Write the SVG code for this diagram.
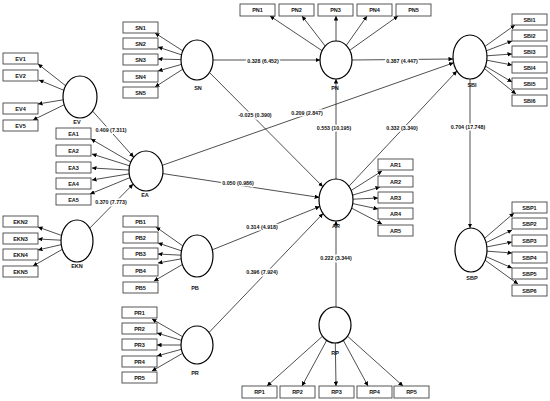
<svg xmlns="http://www.w3.org/2000/svg" width="550" height="401" viewBox="0 0 550 401">
<style>
.bx{fill:#fff;stroke:#444;stroke-width:0.9}
.ci{fill:#fff;stroke:#000;stroke-width:1.2}
.t{font-family:"Liberation Sans",Arial,sans-serif;font-weight:bold;font-size:5.5px;fill:#111;text-anchor:middle;dominant-baseline:central}
.pl{font-family:"Liberation Sans",Arial,sans-serif;font-weight:bold;font-size:5.3px;fill:#111;text-anchor:middle;dominant-baseline:central;stroke:#fff;stroke-width:3;paint-order:stroke;stroke-linejoin:round}
.ln{stroke:#222;stroke-width:0.8;fill:none;marker-end:url(#ah)}
</style>
<defs>
<marker id="ah" viewBox="0 0 6 6" refX="6" refY="3" markerWidth="4.5" markerHeight="4.5" orient="auto" markerUnits="userSpaceOnUse"><path d="M0,0 L6,3 L0,6 z" fill="#000"/></marker>
</defs>
<rect width="550" height="401" fill="#fff"/>
<g id="connectors">
<!-- outer model -->
<line class="ln" x1="80" y1="97" x2="38" y2="64"/>
<line class="ln" x1="80" y1="97" x2="39" y2="80"/>
<line class="ln" x1="80" y1="97" x2="38" y2="104"/>
<line class="ln" x1="80" y1="97" x2="33" y2="120"/>
<line class="ln" x1="146" y1="171" x2="91" y2="139"/>
<line class="ln" x1="146" y1="171" x2="92" y2="154"/>
<line class="ln" x1="146" y1="171" x2="92" y2="168"/>
<line class="ln" x1="146" y1="171" x2="92" y2="180"/>
<line class="ln" x1="146" y1="171" x2="90" y2="194"/>
<line class="ln" x1="77" y1="241" x2="38" y2="227"/>
<line class="ln" x1="77" y1="241" x2="38" y2="239"/>
<line class="ln" x1="77" y1="241" x2="38" y2="250"/>
<line class="ln" x1="77" y1="241" x2="33" y2="266"/>
<line class="ln" x1="197" y1="60" x2="155" y2="33"/>
<line class="ln" x1="197" y1="60" x2="158" y2="47"/>
<line class="ln" x1="197" y1="60" x2="158" y2="59"/>
<line class="ln" x1="197" y1="60" x2="158" y2="71"/>
<line class="ln" x1="197" y1="60" x2="155" y2="87"/>
<line class="ln" x1="336" y1="60" x2="270" y2="16"/>
<line class="ln" x1="336" y1="60" x2="302" y2="16"/>
<line class="ln" x1="336" y1="60" x2="336" y2="16"/>
<line class="ln" x1="336" y1="60" x2="367" y2="16"/>
<line class="ln" x1="336" y1="60" x2="398" y2="16"/>
<line class="ln" x1="470" y1="57" x2="515" y2="25"/>
<line class="ln" x1="470" y1="57" x2="512" y2="41"/>
<line class="ln" x1="470" y1="57" x2="512" y2="54"/>
<line class="ln" x1="470" y1="57" x2="512" y2="65"/>
<line class="ln" x1="470" y1="57" x2="512" y2="82"/>
<line class="ln" x1="470" y1="57" x2="516" y2="94"/>
<line class="ln" x1="471" y1="250" x2="514" y2="213"/>
<line class="ln" x1="471" y1="250" x2="512" y2="230"/>
<line class="ln" x1="471" y1="250" x2="512" y2="242"/>
<line class="ln" x1="471" y1="250" x2="512" y2="253"/>
<line class="ln" x1="471" y1="250" x2="512" y2="268"/>
<line class="ln" x1="471" y1="250" x2="518" y2="284"/>
<line class="ln" x1="336" y1="200" x2="382" y2="171"/>
<line class="ln" x1="336" y1="200" x2="380" y2="187"/>
<line class="ln" x1="336" y1="200" x2="378" y2="198"/>
<line class="ln" x1="336" y1="200" x2="378" y2="209"/>
<line class="ln" x1="336" y1="200" x2="382" y2="224"/>
<line class="ln" x1="197" y1="256" x2="156" y2="227"/>
<line class="ln" x1="197" y1="256" x2="158" y2="243"/>
<line class="ln" x1="197" y1="256" x2="158" y2="254"/>
<line class="ln" x1="197" y1="256" x2="158" y2="263"/>
<line class="ln" x1="197" y1="256" x2="154" y2="281"/>
<line class="ln" x1="197" y1="345" x2="152" y2="319"/>
<line class="ln" x1="197" y1="345" x2="157" y2="333"/>
<line class="ln" x1="197" y1="345" x2="157" y2="345"/>
<line class="ln" x1="197" y1="345" x2="157" y2="356"/>
<line class="ln" x1="197" y1="345" x2="152" y2="371"/>
<line class="ln" x1="335" y1="325" x2="267" y2="386"/>
<line class="ln" x1="335" y1="325" x2="302" y2="386"/>
<line class="ln" x1="335" y1="325" x2="336" y2="386"/>
<line class="ln" x1="335" y1="325" x2="368" y2="386"/>
<line class="ln" x1="335" y1="325" x2="403" y2="386"/>
<!-- inner model -->
<line class="ln" x1="92.6" y1="111.1" x2="133.7" y2="157.2"/>
<line class="ln" x1="89.7" y1="228.2" x2="133.1" y2="184.1"/>
<line class="ln" x1="213" y1="60" x2="320" y2="60"/>
<line class="ln" x1="352" y1="60" x2="453" y2="59"/>
<line class="ln" x1="209.5" y1="72.5" x2="322.8" y2="186.7"/>
<line class="ln" x1="162.3" y1="165.3" x2="453.6" y2="62.8"/>
<line class="ln" x1="336" y1="179" x2="336" y2="79"/>
<line class="ln" x1="348.9" y1="186.3" x2="456.9" y2="71"/>
<line class="ln" x1="162.9" y1="173.6" x2="319.1" y2="197.4"/>
<line class="ln" x1="212.3" y1="249.8" x2="319.8" y2="206.5"/>
<line class="ln" x1="209" y1="332.5" x2="323" y2="213.5"/>
<line class="ln" x1="336" y1="307" x2="336" y2="221"/>
<line class="ln" x1="470" y1="79" x2="470" y2="228"/>
<text class="pl" x="111" y="130">0.409 (7.311)</text>
<text class="pl" x="111" y="202">0.370 (7.773)</text>
<text class="pl" x="263" y="61">0.328 (6.452)</text>
<text class="pl" x="402" y="61">0.387 (4.447)</text>
<text class="pl" x="255" y="115">-0.025 (0.390)</text>
<text class="pl" x="307" y="113">0.209 (2.847)</text>
<text class="pl" x="334" y="128">0.553 (10.195)</text>
<text class="pl" x="402" y="128">0.332 (3.340)</text>
<text class="pl" x="238" y="183">0.050 (0.986)</text>
<text class="pl" x="262" y="227">0.314 (4.918)</text>
<text class="pl" x="262" y="272">0.396 (7.924)</text>
<text class="pl" x="336" y="258">0.222 (3.344)</text>
<text class="pl" x="468" y="127">0.704 (17.748)</text>
</g>
<g id="EV"><ellipse class="ci" cx="80" cy="97" rx="17" ry="21"/><text class="t" x="77" y="122">EV</text>
<rect class="bx" x="3" y="53" width="35" height="11"/><text class="t" x="20.5" y="58.5">EV1</text>
<rect class="bx" x="3" y="70" width="35" height="11"/><text class="t" x="20.5" y="75.5">EV2</text>
<rect class="bx" x="3" y="103" width="35" height="11"/><text class="t" x="20.5" y="108.5">EV4</text>
<rect class="bx" x="3" y="120" width="35" height="11"/><text class="t" x="20.5" y="125.5">EV5</text></g>
<g id="EA"><ellipse class="ci" cx="146" cy="171" rx="17" ry="20"/><text class="t" x="145" y="195">EA</text>
<rect class="bx" x="56" y="128" width="35" height="11"/><text class="t" x="73.5" y="133.5">EA1</text>
<rect class="bx" x="56" y="145" width="35" height="11"/><text class="t" x="73.5" y="150.5">EA2</text>
<rect class="bx" x="56" y="162" width="35" height="11"/><text class="t" x="73.5" y="167.5">EA3</text>
<rect class="bx" x="56" y="178" width="35" height="11"/><text class="t" x="73.5" y="183.5">EA4</text>
<rect class="bx" x="56" y="194" width="35" height="11"/><text class="t" x="73.5" y="199.5">EA5</text></g>
<g id="EKN"><ellipse class="ci" cx="77" cy="241" rx="16" ry="21"/><text class="t" x="77" y="266">EKN</text>
<rect class="bx" x="3" y="216" width="35" height="11"/><text class="t" x="20.5" y="221.5">EKN2</text>
<rect class="bx" x="3" y="233" width="35" height="11"/><text class="t" x="20.5" y="238.5">EKN3</text>
<rect class="bx" x="3" y="249" width="35" height="11"/><text class="t" x="20.5" y="254.5">EKN4</text>
<rect class="bx" x="3" y="266" width="35" height="11"/><text class="t" x="20.5" y="271.5">EKN5</text></g>
<g id="SN"><ellipse class="ci" cx="197" cy="60" rx="16" ry="20"/><text class="t" x="198" y="88">SN</text>
<rect class="bx" x="123" y="22" width="35" height="11"/><text class="t" x="140.5" y="27.5">SN1</text>
<rect class="bx" x="123" y="38" width="35" height="11"/><text class="t" x="140.5" y="43.5">SN2</text>
<rect class="bx" x="123" y="54" width="35" height="11"/><text class="t" x="140.5" y="59.5">SN3</text>
<rect class="bx" x="123" y="71" width="35" height="11"/><text class="t" x="140.5" y="76.5">SN4</text>
<rect class="bx" x="123" y="87" width="35" height="11"/><text class="t" x="140.5" y="92.5">SN5</text></g>
<g id="PN"><ellipse class="ci" cx="336" cy="60" rx="16" ry="19"/><text class="t" x="335" y="88">PN</text>
<rect class="bx" x="240" y="4" width="35" height="12"/><text class="t" x="257.5" y="10">PN1</text>
<rect class="bx" x="279" y="4" width="35" height="12"/><text class="t" x="296.5" y="10">PN2</text>
<rect class="bx" x="318" y="4" width="35" height="12"/><text class="t" x="335.5" y="10">PN3</text>
<rect class="bx" x="357" y="4" width="35" height="12"/><text class="t" x="374.5" y="10">PN4</text>
<rect class="bx" x="396" y="4" width="35" height="12"/><text class="t" x="413.5" y="10">PN5</text></g>
<g id="SBI"><ellipse class="ci" cx="470" cy="57" rx="17" ry="22"/><text class="t" x="472" y="85">SBI</text>
<rect class="bx" x="512" y="14" width="35" height="11"/><text class="t" x="529.5" y="19.5">SBI1</text>
<rect class="bx" x="512" y="30" width="35" height="11"/><text class="t" x="529.5" y="35.5">SBI2</text>
<rect class="bx" x="512" y="46" width="35" height="11"/><text class="t" x="529.5" y="51.5">SBI3</text>
<rect class="bx" x="512" y="62" width="35" height="11"/><text class="t" x="529.5" y="67.5">SBI4</text>
<rect class="bx" x="512" y="78" width="35" height="11"/><text class="t" x="529.5" y="83.5">SBI5</text>
<rect class="bx" x="512" y="95" width="35" height="11"/><text class="t" x="529.5" y="100.5">SBI6</text></g>
<g id="AR"><ellipse class="ci" cx="336" cy="200" rx="17" ry="21"/><text class="t" x="336" y="226">AR</text>
<rect class="bx" x="378" y="159" width="35" height="11"/><text class="t" x="395.5" y="164.5">AR1</text>
<rect class="bx" x="378" y="176" width="35" height="11"/><text class="t" x="395.5" y="181.5">AR2</text>
<rect class="bx" x="378" y="192" width="35" height="11"/><text class="t" x="395.5" y="197.5">AR3</text>
<rect class="bx" x="378" y="208" width="35" height="11"/><text class="t" x="395.5" y="213.5">AR4</text>
<rect class="bx" x="378" y="225" width="35" height="11"/><text class="t" x="395.5" y="230.5">AR5</text></g>
<g id="SBP"><ellipse class="ci" cx="471" cy="250" rx="16" ry="22"/><text class="t" x="472" y="278">SBP</text>
<rect class="bx" x="512" y="202" width="35" height="11"/><text class="t" x="529.5" y="207.5">SBP1</text>
<rect class="bx" x="512" y="218" width="35" height="11"/><text class="t" x="529.5" y="223.5">SBP2</text>
<rect class="bx" x="512" y="235" width="35" height="11"/><text class="t" x="529.5" y="240.5">SBP3</text>
<rect class="bx" x="512" y="252" width="35" height="11"/><text class="t" x="529.5" y="257.5">SBP4</text>
<rect class="bx" x="512" y="268" width="35" height="11"/><text class="t" x="529.5" y="273.5">SBP5</text>
<rect class="bx" x="512" y="285" width="35" height="11"/><text class="t" x="529.5" y="290.5">SBP6</text></g>
<g id="PB"><ellipse class="ci" cx="197" cy="256" rx="16" ry="21"/><text class="t" x="195" y="288">PB</text>
<rect class="bx" x="123" y="216" width="35" height="11"/><text class="t" x="140.5" y="221.5">PB1</text>
<rect class="bx" x="123" y="232" width="35" height="11"/><text class="t" x="140.5" y="237.5">PB2</text>
<rect class="bx" x="123" y="248" width="35" height="11"/><text class="t" x="140.5" y="253.5">PB3</text>
<rect class="bx" x="123" y="265" width="35" height="11"/><text class="t" x="140.5" y="270.5">PB4</text>
<rect class="bx" x="123" y="282" width="35" height="11"/><text class="t" x="140.5" y="287.5">PB5</text></g>
<g id="PR"><ellipse class="ci" cx="197" cy="345" rx="16" ry="19"/><text class="t" x="195" y="373">PR</text>
<rect class="bx" x="122" y="307" width="35" height="11"/><text class="t" x="139.5" y="312.5">PR1</text>
<rect class="bx" x="122" y="323" width="35" height="11"/><text class="t" x="139.5" y="328.5">PR2</text>
<rect class="bx" x="122" y="339" width="35" height="11"/><text class="t" x="139.5" y="344.5">PR3</text>
<rect class="bx" x="122" y="356" width="35" height="11"/><text class="t" x="139.5" y="361.5">PR4</text>
<rect class="bx" x="122" y="372" width="35" height="11"/><text class="t" x="139.5" y="377.5">PR5</text></g>
<g id="RP"><ellipse class="ci" cx="335" cy="325" rx="16" ry="18"/><text class="t" x="335" y="353">RP</text>
<rect class="bx" x="242" y="386" width="35" height="12"/><text class="t" x="259.5" y="392">RP1</text>
<rect class="bx" x="280" y="386" width="35" height="12"/><text class="t" x="297.5" y="392">RP2</text>
<rect class="bx" x="319" y="386" width="35" height="12"/><text class="t" x="336.5" y="392">RP3</text>
<rect class="bx" x="357" y="386" width="35" height="12"/><text class="t" x="374.5" y="392">RP4</text>
<rect class="bx" x="394" y="386" width="35" height="12"/><text class="t" x="411.5" y="392">RP5</text></g>
</svg>
